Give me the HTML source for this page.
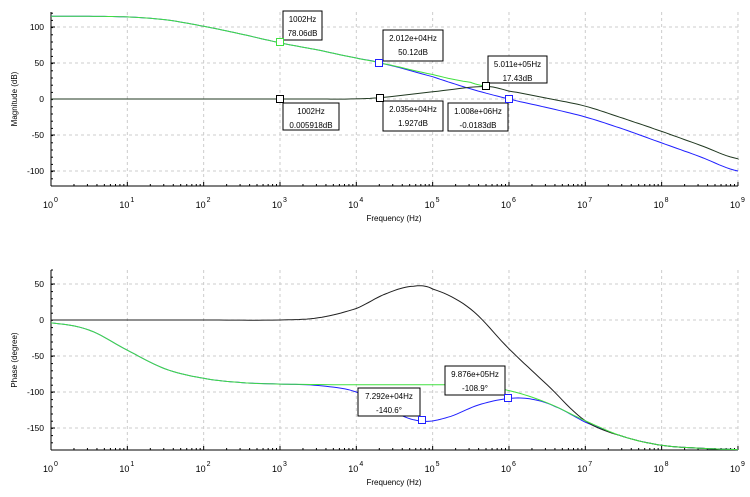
<!DOCTYPE html>
<html><head><meta charset="utf-8"><style>
body{margin:0;background:#fff;}
svg{display:block;font-family:"Liberation Sans",sans-serif;}
</style></head><body>
<svg id="s" width="750" height="497" xmlns="http://www.w3.org/2000/svg"></svg>
<script>
const s=document.getElementById('s');let h='';
const X=d=>51+76.33*d;
const Y1=v=>99-0.72*v, Y2=v=>320-0.72*v;
function grid(y0,y1,vals,Y){
 for(let d=1;d<=9;d++)h+=`<line x1="${X(d)}" y1="${y0}" x2="${X(d)}" y2="${y1}" stroke="#ccc" stroke-dasharray="3,3"/>`;
 vals.forEach(v=>h+=`<line x1="51" y1="${Y(v)}" x2="738" y2="${Y(v)}" stroke="#ccc" stroke-dasharray="3,3"/>`);
 h+=`<line x1="51" y1="${y0}" x2="51" y2="${y1}" stroke="#000"/><line x1="51" y1="${y1}" x2="738" y2="${y1}" stroke="#000"/>`;
 for(let d=0;d<=9;d++){h+=`<line x1="${X(d)}" y1="${y1}" x2="${X(d)}" y2="${y1-4}" stroke="#000"/>`;
  if(d<9)for(let k=2;k<10;k++){const x=X(d+Math.log10(k));h+=`<line x1="${x}" y1="${y1}" x2="${x}" y2="${y1-2}" stroke="#000"/>`;}
  h+=`<text x="${X(d)-3}" y="${y1+22}" font-size="9" text-anchor="middle">10</text><text x="${X(d)+3}" y="${y1+16}" font-size="7">${d}</text>`;}
 vals.forEach(v=>{h+=`<line x1="51" y1="${Y(v)}" x2="55" y2="${Y(v)}" stroke="#000"/><text x="44" y="${Y(v)+3}" font-size="8.5" text-anchor="end">${v}</text>`;});
 for(let y=y1;y>y0;y-=7.2)h+=`<line x1="51" y1="${y}" x2="53" y2="${y}" stroke="#000"/>`;
 h+=`<text x="394" y="${y1+35}" font-size="8" text-anchor="middle">Frequency (Hz)</text>`;
}
grid(12,186,[100,50,0,-50,-100],Y1);
grid(270,450,[50,0,-50,-100,-150],Y2);
h+=`<text transform="translate(17,99) rotate(-90)" font-size="8" text-anchor="middle">Magnitude (dB)</text>`;
h+=`<text transform="translate(17,360) rotate(-90)" font-size="8" text-anchor="middle">Phase (degree)</text>`;
function line(pts,Y,c){let p=[];for(let i=0;i<pts.length-1;i++){const[a,va]=pts[i],[b,vb]=pts[i+1];for(let t=0;t<1;t+=0.1){
 const p0=pts[Math.max(i-1,0)][1],p3=pts[Math.min(i+2,pts.length-1)][1];
 const v=0.5*((2*va)+(-p0+vb)*t+(2*p0-5*va+4*vb-p3)*t*t+(-p0+3*va-3*vb+p3)*t*t*t);
 p.push(X(a+(b-a)*t).toFixed(1)+','+Y(v).toFixed(1));}}
 const l=pts[pts.length-1];p.push(X(l[0])+','+Y(l[1]));
 h+=`<polyline points="${p.join(' ')}" fill="none" stroke="${c}" stroke-width="1"/>`;}
const gm=[[0,115],[0.5,114.8],[1,114],[1.5,110],[2,101],[2.5,90],[3,78],[3.5,68],[4,57],[4.3,50],[5,34],[5.5,23],[5.7,18],[6,11],[6.5,1],[7,-10],[7.5,-27],[8,-45],[8.5,-64],[9,-83]];
const bm=gm.slice(0,10).concat([[5,31],[5.5,14],[6,0],[6.5,-12],[7,-25],[7.5,-42],[8,-61],[8.5,-80],[9,-100]]);
const km=[[0,0],[3.5,0],[3.9,0],[4.3,2],[5,10],[5.7,17.4],[6,11],[6.5,1],[7,-10],[7.5,-27],[8,-45],[8.5,-64],[9,-83]];
line(bm,Y1,'#2020ff');line(km,Y1,'#203820');line(gm.slice(0,13),Y1,'#40e040');
const gp=[[0,-4],[0.5,-14],[1,-42],[1.5,-68],[2,-81],[2.5,-87],[3,-89],[4,-90],[5,-90],[5.5,-91],[6,-98],[6.5,-115],[7,-140],[7.5,-162],[8,-174],[8.5,-178],[9,-180]];
const bp=gp.slice(0,7).concat([[3.5,-91],[4,-100],[4.5,-128],[4.86,-140.6],[5.2,-135],[5.6,-118],[6,-109],[6.3,-110],[6.6,-120],[7,-142],[7.5,-162],[8,-174],[8.5,-178],[9,-180]]);
const kp=[[0,0],[2,0],[3,0],[3.5,3],[4,16],[4.4,37],[4.75,47],[5,43],[5.5,15],[6,-40],[6.5,-90],[7,-140],[7.5,-162],[8,-174],[8.5,-178],[9,-180]];
line(bp,Y2,'#2020ff');line(kp,Y2,'#202020');line(gp,Y2,'#40e040');
function mk(x,y,c){h+=`<rect x="${x-3.5}" y="${y-3.5}" width="7" height="7" fill="#fff" stroke="${c}"/>`;}
function box(x1,y1,x2,y2,a,b){h+=`<rect x="${x1}" y="${y1}" width="${x2-x1}" height="${y2-y1}" fill="#fff" stroke="#000"/><text x="${(x1+x2)/2}" y="${y1+11}" font-size="8" text-anchor="middle">${a}</text><text x="${(x1+x2)/2}" y="${y1+25}" font-size="8" text-anchor="middle">${b}</text>`;}
box(283,11,322,40,'1002Hz','78.06dB');mk(280,42,'#40e040');
box(383,30,443,61,'2.012e+04Hz','50.12dB');mk(379,63,'#2020ff');
box(488,56,547,83,'5.011e+05Hz','17.43dB');mk(486,86,'#000');
box(283,103,339,130,'1002Hz','0.005918dB');mk(280,99,'#000');
box(383,101,443,131,'2.035e+04Hz','1.927dB');mk(380,98,'#000');
box(448,103,508,131,'1.008e+06Hz','-0.0183dB');mk(509,99,'#2020ff');
box(445,366,505,395,'9.876e+05Hz','-108.9°');mk(508,398,'#2020ff');
box(358,388,420,416,'7.292e+04Hz','-140.6°');mk(422,420,'#2020ff');
s.innerHTML=h;
</script>
</body></html>
